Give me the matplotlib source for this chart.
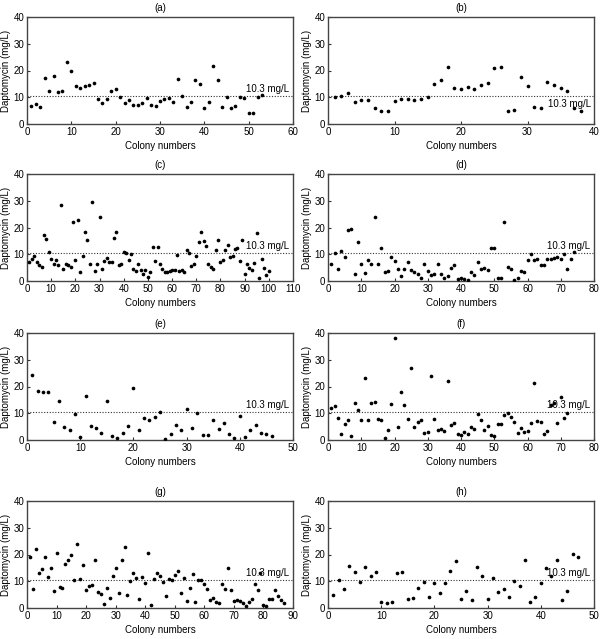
import matplotlib
matplotlib.use('Agg')
import matplotlib.pyplot as plt
import matplotlib.transforms as mtransforms

plt.rcParams['font.family'] = ['Liberation Sans', 'DejaVu Sans']
plt.rcParams['font.size'] = 7

# daptomycin MIC per colony
vals_a = [6.7, 7.5, 6.5, 17.2, 12.2, 17.8, 12.0, 12.4, 23.0, 20.0,
          14.2, 13.6, 14.2, 14.7, 15.2, 9.3, 8.0, 9.2, 12.5, 12.9,
          10.0, 7.8, 8.8, 7.2, 7.0, 7.9, 9.8, 7.0, 6.9, 8.6,
          9.3, 9.7, 8.3, 17.0, 10.5, 6.3, 8.1, 16.5, 15.0, 6.1,
          8.3, 21.6, 16.4, 6.3, 10.2, 6.1, 6.6, 10.0, 9.6, 4.1,
          4.1, 10.1, 11.0]
vals_b = [10.1, 10.4, 11.6, 8.4, 8.9, 9.0, 6.1, 4.8, 4.8, 8.6,
          9.5, 9.5, 9.0, 9.2, 10.2, 15.0, 16.6, 21.3, 13.3, 13.1,
          13.9, 12.9, 14.7, 15.5, 21.0, 21.4, 4.8, 5.1, 17.5, 14.3,
          6.5, 5.9, 15.8, 14.7, 13.5, 12.5, 6.0, 4.9]
vals_c = [7.2, 8.3, 9.2, 7.0, 6.0, 5.2, 17.3, 15.6, 10.8, 8.2,
          6.2, 8.0, 6.0, 28.4, 4.6, 6.5, 5.8, 5.1, 21.9, 7.8,
          22.9, 3.4, 9.2, 18.2, 15.4, 6.4, 29.6, 3.6, 6.5, 24.1,
          4.5, 7.6, 8.5, 7.1, 7.1, 16.2, 18.2, 5.8, 6.5, 10.7,
          10.6, 7.9, 10.1, 4.4, 3.6, 6.2, 4.2, 2.5, 4.1, 1.5,
          3.4, 12.8, 7.4, 12.8, 6.2, 4.5, 3.4, 3.5, 3.8, 4.2,
          4.0, 9.8, 3.6, 4.0, 3.2, 11.6, 10.4, 5.6, 6.5, 9.2,
          14.7, 18.2, 14.9, 12.9, 6.5, 5.2, 4.6, 11.6, 15.2, 7.2,
          7.7, 11.6, 13.3, 9.1, 9.5, 12.0, 12.3, 7.6, 15.5, 2.6,
          6.5, 4.8, 4.0, 6.8, 18.0, 1.0, 8.2, 5.0, 2.2, 3.6]
vals_d = [6.2, 10.3, 4.3, 11.3, 9.1, 19.2, 19.3, 2.5, 14.5, 6.3,
          3.0, 7.7, 6.4, 23.8, 6.3, 12.3, 3.2, 3.6, 8.9, 7.3,
          4.4, 1.8, 4.5, 7.2, 4.2, 3.4, 2.8, 1.0, 6.3, 3.8,
          2.4, 2.5, 6.5, 2.8, 1.2, 2.0, 5.0, 5.9, 0.8, 1.1,
          0.9, 0.5, 3.3, 2.1, 7.1, 4.5, 5.0, 4.2, 12.5, 12.2,
          1.1, 1.1, 21.9, 5.1, 4.5, 0.5, 1.1, 3.7, 3.2, 8.0,
          10.2, 7.8, 8.1, 5.8, 5.8, 8.4, 8.1, 8.7, 9.1, 8.1,
          10.0, 4.6, 8.4, 11.0]
vals_e = [24.4, 18.4, 17.9, 17.9, 6.7, 14.7, 4.9, 3.6, 9.8, 1.3,
          16.4, 5.4, 4.4, 2.7, 14.5, 1.6, 0.6, 2.5, 5.4, 19.6,
          3.7, 8.1, 7.3, 8.6, 10.3, 0.5, 2.1, 5.7, 3.9, 11.6,
          4.5, 10.2, 1.8, 1.8, 7.5, 4.0, 6.3, 2.1, 0.9, 8.9,
          1.2, 3.9, 5.5, 2.7, 2.4, 1.6]
vals_f = [12.0, 12.6, 8.4, 2.3, 5.8, 7.3, 1.6, 13.9, 11.4, 7.6,
          23.1, 7.5, 13.9, 14.3, 7.8, 7.5, 0.6, 3.9, 13.5, 38.3,
          4.7, 18.0, 12.9, 8.0, 26.8, 4.7, 6.8, 7.3, 2.6, 3.1,
          24.1, 8.0, 3.6, 4.2, 3.3, 22.1, 5.7, 6.4, 2.4, 1.8,
          2.9, 2.1, 4.7, 4.2, 9.7, 7.4, 3.9, 5.1, 2.0, 1.6,
          6.1, 6.1, 9.4, 10.2, 8.7, 6.8, 2.8, 4.3, 2.9, 3.5,
          6.2, 21.2, 7.0, 6.7, 2.1, 3.4, 13.1, 14.0, 6.3, 16.2,
          8.4, 10.0]
vals_g = [19.2, 7.2, 22.0, 12.9, 14.7, 19.0, 11.5, 15.1, 6.2, 20.5,
          8.0, 7.6, 16.5, 18.0, 19.8, 10.4, 23.9, 10.7, 16.0, 6.7,
          8.4, 8.5, 18.1, 6.0, 5.1, 1.6, 7.6, 3.9, 12.1, 14.9,
          5.6, 18.1, 22.9, 5.0, 10.2, 13.2, 11.3, 3.4, 11.7, 9.5,
          20.5, 1.0, 10.9, 13.1, 12.1, 9.8, 4.6, 11.0, 10.6, 12.2,
          14.0, 5.5, 11.3, 2.8, 7.3, 12.8, 2.2, 10.3, 10.4, 9.0,
          7.0, 3.1, 3.8, 2.3, 1.7, 9.0, 7.1, 14.9, 6.7, 2.8,
          2.9, 2.6, 1.9, 0.7, 2.1, 3.2, 8.8, 6.7, 12.9, 1.3,
          0.8, 3.2, 3.2, 6.8, 4.4, 3.1, 1.8]
vals_h = [5.0, 10.3, 7.0, 15.6, 13.4, 9.8, 15.5, 11.9, 13.4, 2.1,
          1.9, 2.3, 12.9, 13.4, 3.2, 3.9, 7.6, 9.7, 4.1, 9.2,
          5.6, 9.3, 14.0, 17.6, 3.3, 6.3, 2.9, 15.4, 11.9, 3.2,
          11.4, 6.0, 7.2, 4.0, 10.2, 8.1, 18.1, 2.2, 4.2, 9.2,
          15.1, 12.1, 18.1, 3.1, 6.2, 20.1, 19.1]

panels = ['(a)', '(b)', '(c)', '(d)', '(e)', '(f)', '(g)', '(h)']
series = [vals_a, vals_b, vals_c, vals_d, vals_e, vals_f, vals_g, vals_h]
xmax = [60, 40, 110, 80, 50, 80, 90, 50]
cutoff = 10.3

fig = plt.figure(figsize=(6.02, 6.39), dpi=100)

lefts = [27 / 602, 328 / 602]
tops = [17, 174, 333, 501]
W, H = 602.0, 639.0

for i, (name, vals, xm) in enumerate(zip(panels, series, xmax)):
    row, col = i // 2, i % 2
    ax = fig.add_axes([lefts[col], 1 - (tops[row] + 107) / H, 266 / W, 107 / H])
    xs = list(range(1, len(vals) + 1))
    ax.scatter(xs, vals, s=7, color='black', linewidths=0, zorder=3)
    ax.axhline(cutoff, color='#333333', linestyle=(0, (1, 1.5)), linewidth=0.8)
    trans = mtransforms.blended_transform_factory(ax.transAxes, ax.transData)
    if name == '(b)':
        ax.text(0.99, cutoff - 0.8, '10.3 mg/L', transform=trans, ha='right', va='top')
    else:
        ax.text(0.985, cutoff + 0.8, '10.3 mg/L', transform=trans, ha='right', va='bottom')
    ax.set_xlim(0, xm)
    ax.set_ylim(0, 40)
    ax.set_xticks(range(0, xm + 1, 10))
    ax.set_yticks([0, 10, 20, 30, 40])
    ax.tick_params(direction='in', length=2, width=0.8, pad=2, labelsize=7, color='#333333')
    for sp in ax.spines.values():
        sp.set_color('#444444')
        sp.set_linewidth(1.0)
    ax.set_title(name, fontsize=7, pad=4)
    ax.set_xlabel('Colony numbers', fontsize=7, labelpad=3)
    ax.set_ylabel('Daptomycin (mg/L)', fontsize=7, labelpad=2)

plt.savefig('out.png', dpi=100)
